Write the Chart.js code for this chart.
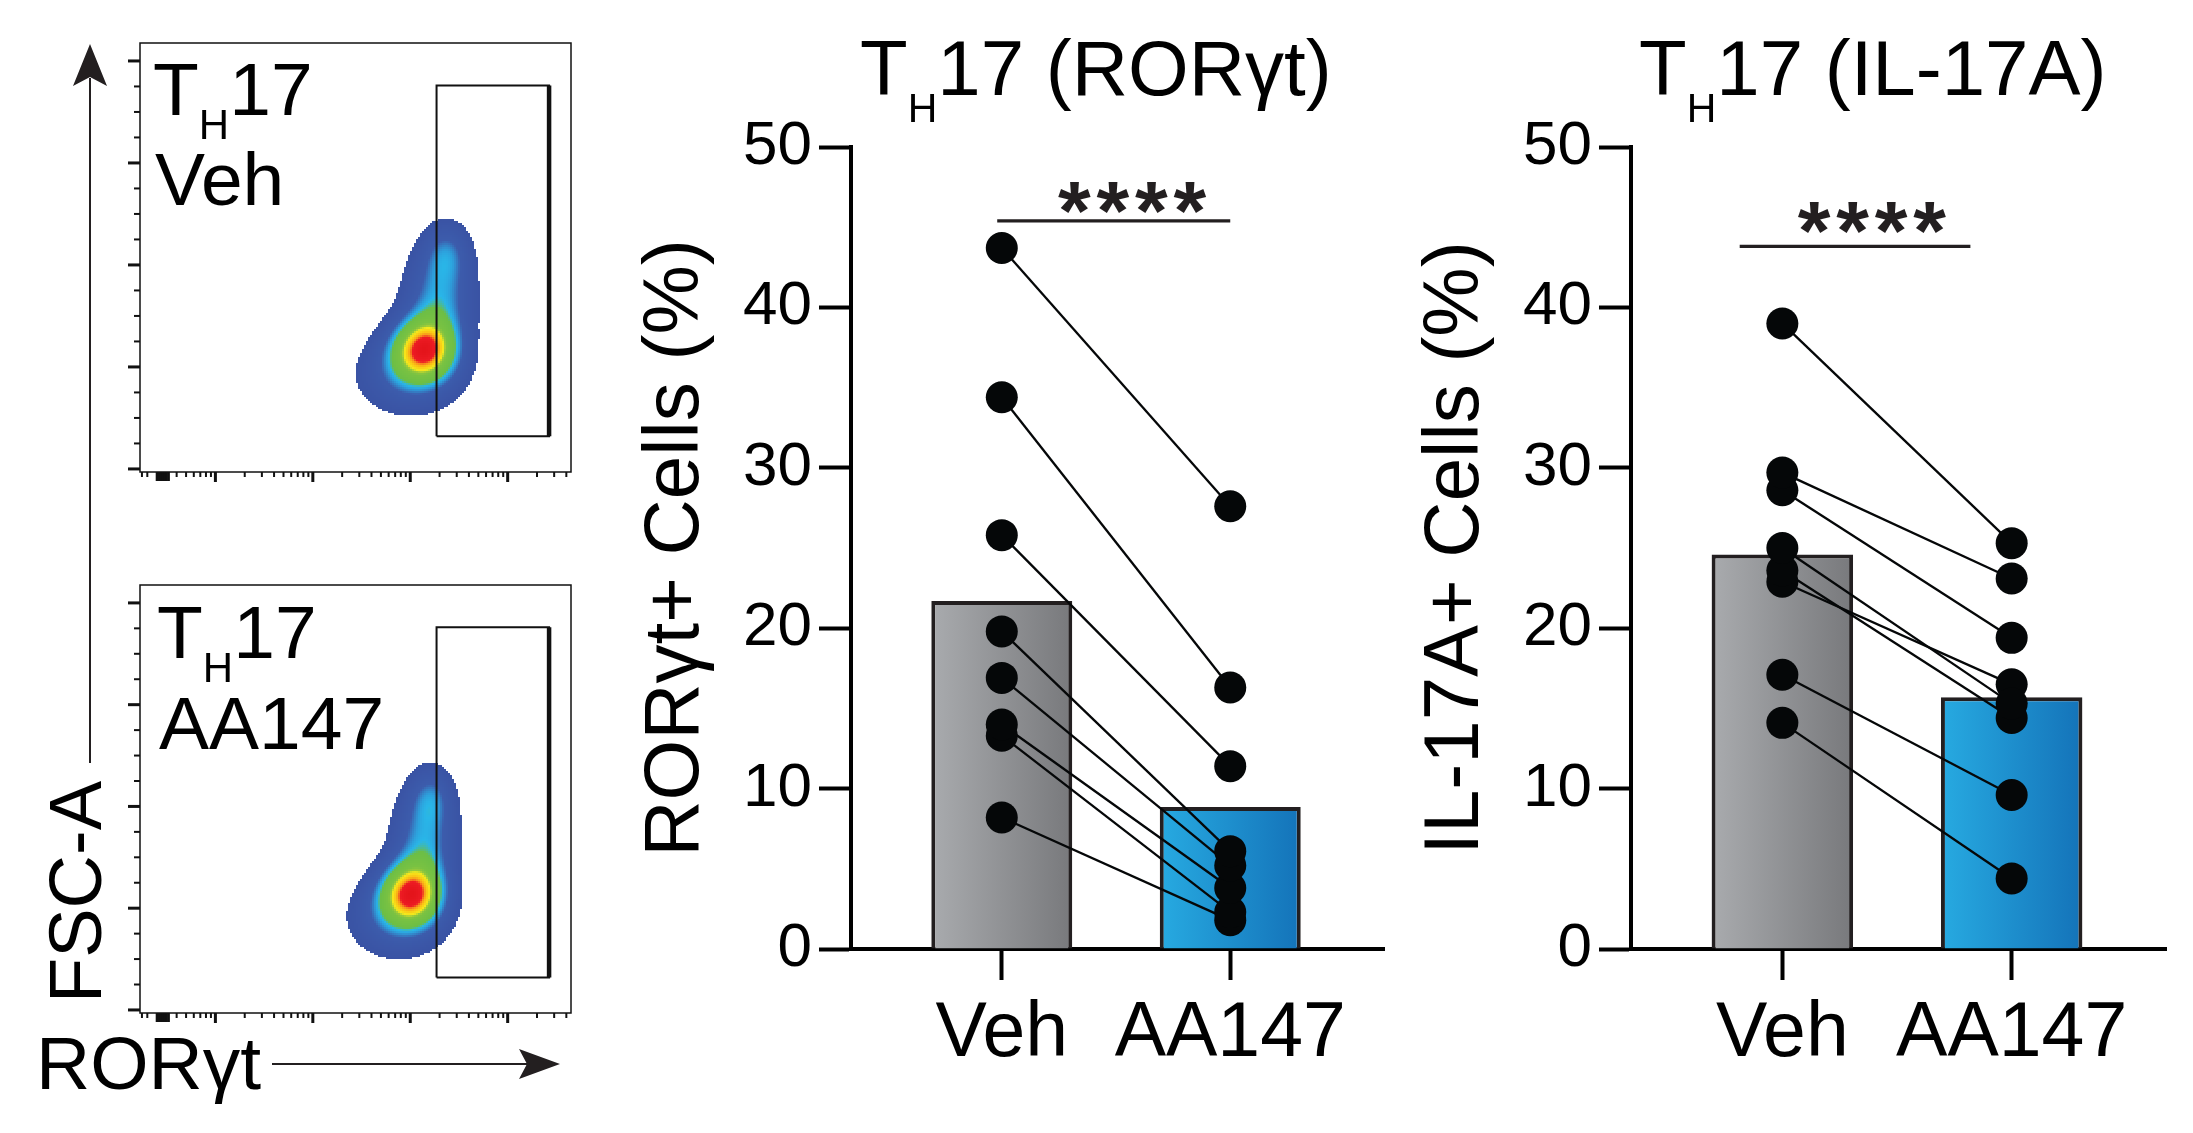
<!DOCTYPE html>
<html><head><meta charset="utf-8">
<script src="https://cdn.jsdelivr.net/npm/chart.js@4.4.1/dist/chart.umd.min.js"></script>
<style>
html,body{margin:0;padding:0;background:#fff;overflow:hidden;}
#wrap{position:relative;width:2193px;height:1133px;overflow:hidden;font-family:'Liberation Sans',Arial,sans-serif;color:#000;}
canvas{position:absolute;}
.t{position:absolute;white-space:nowrap;line-height:1;}
.t .s{position:relative;}
svg{position:absolute;left:0;top:0;}
</style></head><body>
<div id="wrap">
<canvas id="flowTop" width="500" height="480" style="left:100px;top:20px"></canvas>
<canvas id="flowBot" width="500" height="480" style="left:100px;top:562px"></canvas>
<canvas id="barMid" width="840" height="1033" style="left:560px;top:100px"></canvas>
<canvas id="barRight" width="853" height="1033" style="left:1340px;top:100px"></canvas>
<svg width="2193" height="1133">
  <line x1="90" y1="78" x2="90" y2="763" stroke="#231f20" stroke-width="2"/>
  <polygon points="90,44 73,86 90,77 107,86" fill="#231f20"/>
  <line x1="272" y1="1064" x2="530" y2="1064" stroke="#231f20" stroke-width="2"/>
  <polygon points="560,1064 519,1049 527,1064 519,1079" fill="#231f20"/>
</svg>
<div class="t" style="font-size:75px;left:153px;top:52px">T<span class="s" style="font-size:42px;top:23.5px">H</span>17</div>
<div class="t" style="font-size:75px;left:155px;top:141.5px">Veh</div>
<div class="t" style="font-size:75px;left:157px;top:595px">T<span class="s" style="font-size:42px;top:23.5px">H</span>17</div>
<div class="t" style="font-size:75px;left:159px;top:685.5px">AA147</div>
<div class="t" style="font-size:74px;left:75.5px;top:891.5px;transform:translate(-50%,-50%) rotate(-90deg)">FSC-A</div>
<div class="t" style="font-size:75px;left:36px;top:1025.5px">RORγt</div>
<div class="t" style="font-size:78px;left:860px;top:29px">T<span class="s" style="font-size:41px;top:27px">H</span>17 (RORγt)</div>
<div class="t" style="font-size:78px;left:1639px;top:29px">T<span class="s" style="font-size:41px;top:27px">H</span>17 (IL-17A)</div>
</div>
<script>
// ---------------- data ----------------
const categories = ['Veh', 'AA147'];
const yTicksMax = 50;
// T_H17 (RORγt)
const rorBars = [21.7, 8.85];
const rorVeh = [43.7, 34.4, 25.8, 19.8, 16.9, 14.0, 13.3, 8.2];
const rorAA147 = [27.6, 16.3, 11.4, 6.1, 5.2, 3.8, 2.3, 1.8];
const rorSigLine = [-0.02, 1.0, 45.4];     // x from, x to, y
const rorSigStars = [0.57, 46.8];          // x, y
// T_H17 (IL-17A)
const il17Bars = [24.6, 15.7];
const il17Veh = [39.0, 29.7, 28.6, 25.0, 23.6, 22.9, 17.1, 14.1];
const il17AA147 = [25.3, 23.1, 19.4, 15.3, 14.4, 16.5, 9.6, 4.4];
const il17SigLine = [-0.186, 0.82, 43.8];
const il17SigStars = [0.39, 45.6];
// flow plots (x: log decades of RORγt, y: FSC-A in major-tick units)
const gateX = [4.27, 5.425];
const gateY = [0.32, 3.76];
const blobVehX = [4.14, 3.98, 4.30, 4.38];
const blobVehY = [1.18, 0.92, 1.70, 2.15];
const blobVehSX = [0.24, 0.38, 0.26, 0.17];
const blobVehSY = [0.22, 0.28, 0.36, 0.21];
const blobVehW = [1.0, 0.45, 0.56, 0.33];
const blobAAX = [4.01, 3.86, 4.15, 4.22];
const blobAAY = [1.15, 0.90, 1.68, 2.12];
const blobAASX = [0.23, 0.36, 0.24, 0.16];
const blobAASY = [0.22, 0.28, 0.36, 0.21];
const blobAAW = [1.0, 0.45, 0.56, 0.33];
const flowYMajor = [0, 1, 2, 3, 4];
const flowXMajor = [2, 3, 4, 5];
const flowXDense = [1.40, 1.42, 1.44, 1.46, 1.48, 1.50, 1.52];

// ---------------- helpers ----------------
const FONT = "'Liberation Sans', Arial, sans-serif";
const CAT = 0.617;

const cmapStops = [
  [0.12, [58, 83, 164]], [0.33, [60, 92, 172]], [0.41, [45, 160, 220]], [0.45, [41, 182, 232]],
  [0.50, [108, 190, 69]], [0.67, [122, 194, 66]], [0.72, [150, 200, 60]],
  [0.76, [245, 234, 28]], [0.83, [250, 195, 20]], [0.87, [247, 148, 29]],
  [0.91, [237, 28, 36]], [1.0, [228, 20, 27]]
];
function cmap(r) {
  for (let i = 1; i < cmapStops.length; i++) {
    if (r <= cmapStops[i][0]) {
      const [r0, c0] = cmapStops[i - 1], [r1, c1] = cmapStops[i];
      const t = (r - r0) / (r1 - r0);
      return [0, 1, 2].map(k => Math.round(c0[k] + (c1[k] - c0[k]) * t));
    }
  }
  return cmapStops[cmapStops.length - 1][1];
}

function flowPlugin(blob) {
  return {
    id: 'flowplot',
    beforeDatasetsDraw(chart) {
      const {ctx, chartArea: a, scales: {x, y}} = chart;
      const cell = 2;
      const w = Math.ceil(a.width / cell), h = Math.ceil(a.height / cell);
      const dens = new Float32Array(w * h); let max = 0;
      for (let j = 0; j < h; j++) {
        const yv = y.getValueForPixel(a.top + (j + 0.5) * cell);
        for (let i = 0; i < w; i++) {
          const xv = x.getValueForPixel(a.left + (i + 0.5) * cell);
          let d = 0;
          for (let k = 0; k < blob.x.length; k++) {
            const dx = (xv - blob.x[k]) / blob.sx[k], dy = (yv - blob.y[k]) / blob.sy[k];
            d += blob.w[k] * Math.exp(-0.5 * (dx * dx + dy * dy));
          }
          dens[j * w + i] = d; if (d > max) max = d;
        }
      }
      const off = document.createElement('canvas'); off.width = w; off.height = h;
      const octx = off.getContext('2d'); const img = octx.createImageData(w, h);
      for (let p = 0; p < w * h; p++) {
        const r = dens[p] / max;
        if (r < cmapStops[0][0]) continue;
        const c = cmap(r);
        img.data[p * 4] = c[0]; img.data[p * 4 + 1] = c[1]; img.data[p * 4 + 2] = c[2]; img.data[p * 4 + 3] = 255;
      }
      octx.putImageData(img, 0, 0);
      ctx.save(); ctx.imageSmoothingEnabled = false;
      ctx.drawImage(off, a.left, a.top, w * cell, h * cell); ctx.restore();
    },
    afterDraw(chart) {
      const {ctx, chartArea: a, scales: {x, y}} = chart;
      ctx.save(); ctx.strokeStyle = '#111'; ctx.lineWidth = 1.5;
      ctx.strokeRect(a.left, a.top, a.width, a.height);
      const tick = (x1, y1, x2, y2, lw) => { ctx.lineWidth = lw; ctx.beginPath(); ctx.moveTo(x1, y1); ctx.lineTo(x2, y2); ctx.stroke(); };
      // y ticks
      flowYMajor.forEach(v => { const p = y.getPixelForValue(v); tick(a.left - 12, p, a.left, p, 3); });
      for (let v = 0; v < 4.2; v += 0.25) {
        if (Math.abs(v - Math.round(v)) < 1e-6) continue;
        if (v > y.max) break;
        const p = y.getPixelForValue(v); tick(a.left - 6, p, a.left, p, 2);
      }
      // x ticks
      flowXMajor.forEach(v => { const p = x.getPixelForValue(v); tick(p, a.bottom, p, a.bottom + 10, 3); });
      for (let d = 1; d <= 5; d++) for (let k = 2; k <= 9; k++) {
        const v = d + Math.log10(k);
        if (v < x.min || v > x.max) continue;
        const p = x.getPixelForValue(v); tick(p, a.bottom, p, a.bottom + 5, 2);
      }
      flowXDense.forEach(v => { const p = x.getPixelForValue(v); tick(p, a.bottom, p, a.bottom + 9, 2.5); });
      const p0 = x.getPixelForValue(x.min + 0.02); tick(p0, a.bottom, p0, a.bottom + 5, 2);
      ctx.restore();
    }
  };
}

function flowChart(id, blob) {
  return new Chart(document.getElementById(id), {
    type: 'scatter',
    data: {datasets: [
      {data: [{x: gateX[0], y: gateY[0]}, {x: gateX[0], y: gateY[1]}, {x: gateX[1], y: gateY[1]}, {x: gateX[1], y: gateY[0]}, {x: gateX[0], y: gateY[0]}],
       showLine: true, borderColor: '#111', borderWidth: 2, pointRadius: 0, fill: false, tension: 0},
      {data: [{x: gateX[1], y: gateY[0]}, {x: gateX[1], y: gateY[1]}],
       showLine: true, borderColor: '#111', borderWidth: 4.5, pointRadius: 0, fill: false}
    ]},
    options: {
      responsive: false, animation: false, events: [],
      layout: {padding: {left: 40, top: 23, right: 29, bottom: id === 'flowTop' ? 28 : 29}},
      plugins: {legend: {display: false}, tooltip: {enabled: false}},
      scales: {
        x: {type: 'linear', display: false, min: 1.226, max: 5.65},
        y: {type: 'linear', display: false, min: -0.03, max: 4.176}
      }
    },
    plugins: [flowPlugin(blob)]
  });
}

function starsPlugin(pos) {
  return {
    id: 'sigstars',
    afterDatasetsDraw(chart) {
      const {ctx, scales: {x, y}} = chart;
      const cx = x.getPixelForValue(pos[0]), cy = y.getPixelForValue(pos[1]);
      ctx.save();
      ctx.font = 'bold 84px ' + FONT; ctx.fillStyle = '#231f20';
      ctx.textAlign = 'center'; ctx.textBaseline = 'alphabetic';
      const m = ctx.measureText('*');
      const base = cy + (m.actualBoundingBoxAscent - m.actualBoundingBoxDescent) / 2;
      for (let i = 0; i < 4; i++) ctx.fillText('*', cx + (i - 1.5) * 38.5, base);
      ctx.restore();
    }
  };
}

const barLeftColors = ['#a9abae', '#27aae1'];
const barRightColors = ['#78797c', '#1473b9'];
function barGradient(c) {
  const ch = c.chart, a = ch.chartArea;
  if (!a || c.type !== 'data') return barLeftColors[0];
  const xs = ch.scales.x, i = c.dataIndex;
  const cx = xs.getPixelForValue(i);
  const half = (xs.getPixelForValue(1) - xs.getPixelForValue(0)) * CAT / 2;
  const g = ch.ctx.createLinearGradient(cx - half, 0, cx + half, 0);
  g.addColorStop(0, barLeftColors[i]); g.addColorStop(1, barRightColors[i]);
  return g;
}

function pairedChart(id, bars, veh, aa, sigLine, sigStars, yTitle, rightPad) {
  const datasets = [{
    type: 'bar', data: bars.map((v, i) => ({x: i, y: v})),
    backgroundColor: barGradient, borderColor: '#231f20', borderWidth: 4,
    barPercentage: 1, categoryPercentage: CAT, order: 5
  }];
  veh.forEach((v, i) => datasets.push({
    type: 'line', data: [{x: 0, y: v}, {x: 1, y: aa[i]}],
    borderColor: '#050708', borderWidth: 2.3, pointRadius: 16, pointBorderWidth: 0,
    pointBackgroundColor: '#050708', tension: 0, order: 1, fill: false
  }));
  datasets.push({
    type: 'line', data: [{x: sigLine[0], y: sigLine[2]}, {x: sigLine[1], y: sigLine[2]}],
    borderColor: '#231f20', borderWidth: 3.2, pointRadius: 0, order: 2, fill: false
  });
  return new Chart(document.getElementById(id), {
    type: 'bar',
    data: {datasets},
    options: {
      responsive: false, animation: false, events: [],
      layout: {padding: {left: 0, top: 47, right: rightPad, bottom: 0}},
      plugins: {legend: {display: false}, tooltip: {enabled: false}},
      scales: {
        x: {
          type: 'linear', min: -0.66, max: 1.673, bounds: 'data', offset: false,
          afterBuildTicks: s => { s.ticks = categories.map((c, i) => ({value: i})); },
          afterFit: s => { s.height = 184; },
          ticks: {callback: v => categories[v], font: {family: FONT, size: 77}, color: '#000', padding: 9, maxRotation: 0, autoSkip: false},
          grid: {display: true, drawOnChartArea: false, drawTicks: true, tickLength: 31, tickWidth: 4, tickColor: '#000', offset: false},
          border: {display: true, width: 4, color: '#000'}
        },
        y: {
          type: 'linear', min: 0, max: yTicksMax,
          afterFit: s => { s.width = 291; },
          ticks: {stepSize: 10, font: {family: FONT, size: 62}, color: '#000', padding: 7},
          grid: {display: true, drawOnChartArea: false, drawTicks: true, tickLength: 32, tickWidth: 4, tickColor: '#000'},
          border: {display: true, width: 4, color: '#000'},
          title: {display: true, text: yTitle, color: '#000', font: {family: FONT, size: 78, lineHeight: 1}, padding: {top: 77, bottom: 0}}
        }
      }
    },
    plugins: [starsPlugin(sigStars)]
  });
}

flowChart('flowTop', {x: blobVehX, y: blobVehY, sx: blobVehSX, sy: blobVehSY, w: blobVehW});
flowChart('flowBot', {x: blobAAX, y: blobAAY, sx: blobAASX, sy: blobAASY, w: blobAAW});
pairedChart('barMid', rorBars, rorVeh, rorAA147, rorSigLine, rorSigStars, 'RORγt+ Cells (%)', 16);
pairedChart('barRight', il17Bars, il17Veh, il17AA147, il17SigLine, il17SigStars, 'IL-17A+ Cells (%)', 27);
</script>
</body></html>
